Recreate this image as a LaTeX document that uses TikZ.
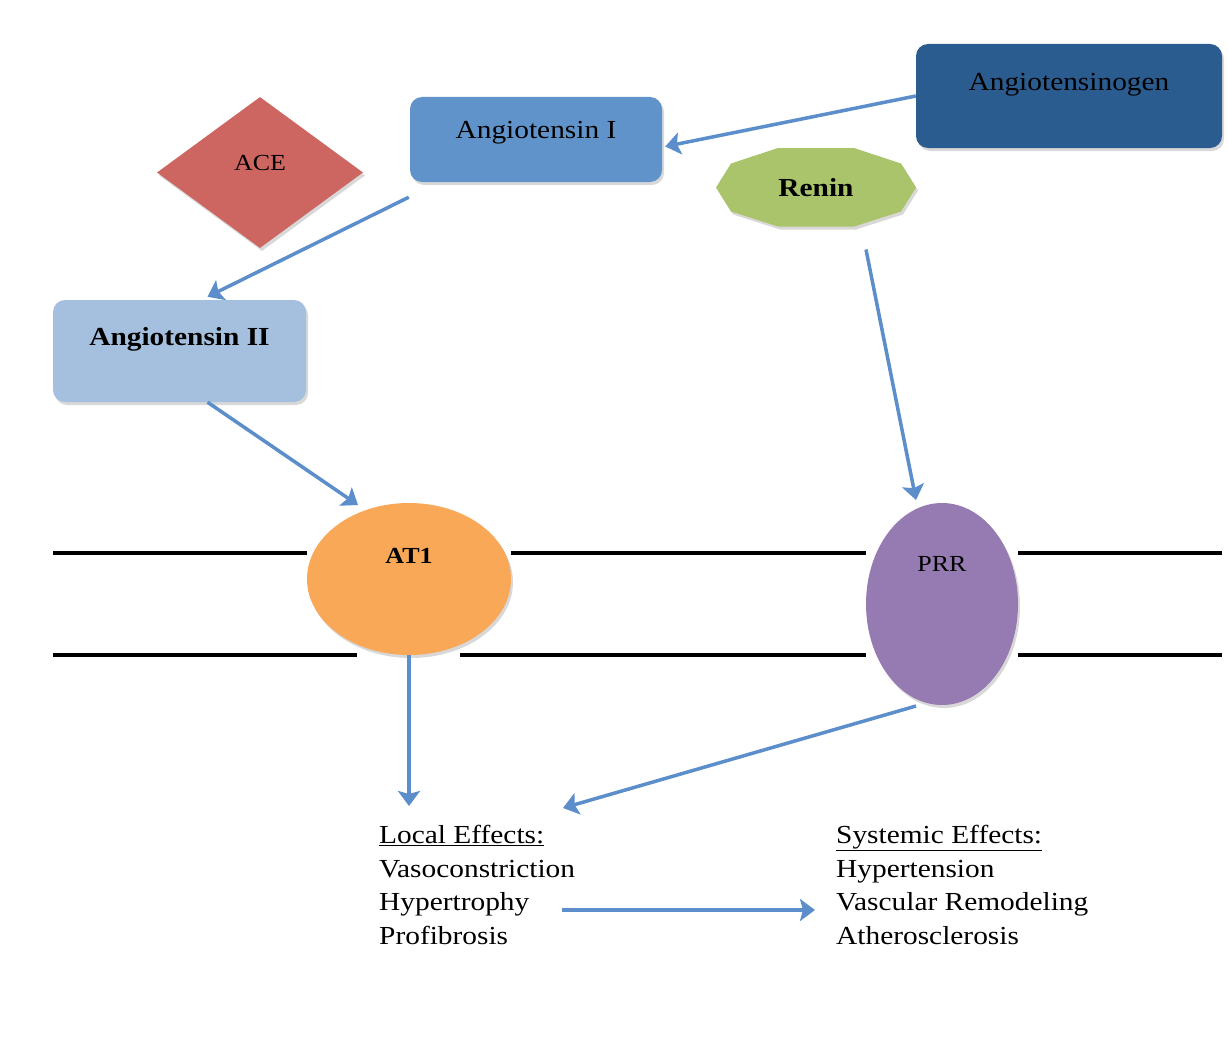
\documentclass[tikz,border=0pt]{standalone}
\usepackage{fontspec}
\setmainfont{Liberation Serif}[FakeStretch=1.13]
\usetikzlibrary{arrows.meta,shapes.geometric,shadows,calc}
\definecolor{agtcol}{HTML}{2B5C8F}
\definecolor{aonecol}{HTML}{6093C9}
\definecolor{acecol}{HTML}{CD6661}
\definecolor{renincol}{HTML}{AAC46B}
\definecolor{atwocol}{HTML}{A5C0DE}
\definecolor{atcol}{HTML}{F9A858}
\definecolor{prrcol}{HTML}{967BB3}
\definecolor{arrcol}{HTML}{5B8ECA}
\begin{document}
\begin{tikzpicture}[x=1pt,y=-1pt,
  shad/.style={drop shadow={shadow xshift=2pt,shadow yshift=-3pt,opacity=0.3}},
  rbox/.style={rounded corners=12pt,minimum width=#1,inner sep=0pt,shad},
  txt/.style={font=\fontsize{26}{33}\selectfont},
  stxt/.style={font=\fontsize{23}{28}\selectfont},
  arr/.style={draw=arrcol,line width=3.5pt,
    -{Stealth[length=15pt,width=22pt,inset=3pt]}},
  membrane/.style={line width=4.5pt,black},
  effects/.style={align=left,inner sep=0pt,anchor=north west,
    font=\fontsize{26}{33.5}\selectfont}
]
\useasboundingbox[fill=white] (0,0) rectangle (1228,1046);

% membrane
\draw[membrane] (53,553) -- (307,553) (511,553) -- (866,553) (1018,553) -- (1222,553);
\draw[membrane] (53,655) -- (357,655) (460,655) -- (866,655) (1018,655) -- (1222,655);

% nodes
\node[rbox=306pt,minimum height=104pt,fill=agtcol,
  label={[txt,yshift=11pt]center:Angiotensinogen}] (agt) at (1069,96) {};
\node[rbox=252pt,minimum height=85pt,fill=aonecol,
  label={[txt,yshift=7pt]center:Angiotensin I}] (a1) at (536,139.5) {};
\node[diamond,minimum width=206pt,minimum height=151pt,inner sep=0pt,fill=acecol,shad,
  label={[stxt,yshift=10pt]center:ACE}] (ace) at (260,172.5) {};
\coordinate (rc) at (816,187.5);
\fill[renincol,shad] ($(rc)+(-100,0)$) -- ($(rc)+(-85,-24)$) -- ($(rc)+(-38,-39.5)$)
  -- ($(rc)+(38,-39.5)$) -- ($(rc)+(85,-24)$) -- ($(rc)+(100,0)$)
  -- ($(rc)+(85,24)$) -- ($(rc)+(38,39)$) -- ($(rc)+(-38,39)$)
  -- ($(rc)+(-85,24)$) -- cycle;
\node[txt,inner sep=0pt,minimum width=200pt,minimum height=79pt] (renin) at (rc) {\textbf{Renin}};
\node[rbox=253pt,minimum height=102pt,fill=atwocol,
  label={[txt,yshift=12pt]center:\textbf{Angiotensin II}}] (a2) at (179.5,351) {};
\node[ellipse,minimum width=204pt,minimum height=152pt,inner sep=0pt,fill=atcol,shad,
  label={[stxt,yshift=23pt]center:\textbf{AT1}}] (at1) at (409,579) {};
\node[ellipse,minimum width=152pt,minimum height=202pt,inner sep=0pt,fill=prrcol,shad,
  label={[stxt,yshift=40pt]center:PRR}] (prr) at (942,604) {};

\node[effects] (local) at (379,825) {\underline{Local Effects:}\\Vasoconstriction\\Hypertrophy\\Profibrosis};
\node[effects] (sys) at (836,825) {\underline{Systemic Effects:}\\Hypertension\\Vascular Remodeling\\Atherosclerosis};

% connectors
\draw[arr] (agt.west) -- ($(a1.east)+(3,7)$);
\draw[arr] ($(a1.south west)+(-1,15)$) -- ($(a2.north)+(28,-3)$);
\draw[arr] ($(a2.south)+(28,0)$) -- ($(at1.center)+(-51,-74)$);
\draw[arr] ($(renin.center)+(50,62)$) -- ($(prr.center)+(-26,-104)$);
\draw[arr] (at1.south) -- ($(local.north west)+(30,-19)$);
\draw[arr] ($(prr.center)+(-26,102)$) -- ($(local.north west)+(184,-17)$);
\draw[arr] ($(local.north west)+(183,85)$) -- ($(sys.north west)+(-21,85)$);
\end{tikzpicture}
\end{document}
